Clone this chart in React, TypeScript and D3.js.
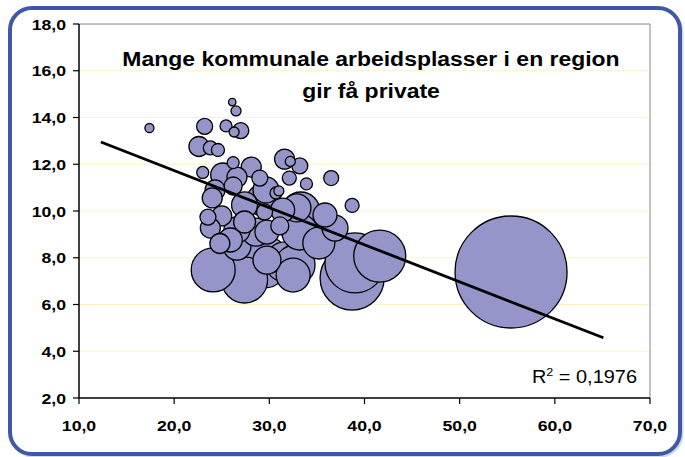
import React from "react";
import * as d3 from "d3";

const titleLines = ["Mange kommunale arbeidsplasser i en region", "gir få private"];
const xTicks = [10, 20, 30, 40, 50, 60, 70];
const yTicks = [2, 4, 6, 8, 10, 12, 14, 16, 18];

// bubble data: x, y, size
const bubbleX = [17.4, 26.1, 26.5, 23.2, 25.45, 27.0, 26.3, 22.6, 23.8, 24.6, 23.0, 26.2, 28.1, 31.6, 32.2, 33.2, 32.1, 33.9, 36.5, 38.7,
  25.1, 26.6, 29.0, 26.2, 24.3, 29.65, 31.0, 29.3, 32.9, 24.0, 27.4, 25.0, 23.55, 23.8, 26.6, 24.8, 26.6, 31.1, 33.3, 29.75,
  29.5, 35.2, 31.65, 29.75, 24.1, 27.4, 29.4, 32.5, 32.7, 39.0, 38.7, 41.6, 55.4, 30.7, 25.9, 35.85,
  33.2, 28.6, 31.4, 27.4, 36.9];
const bubbleY = [13.55, 14.66, 14.28, 13.62, 13.64, 13.44, 13.38, 12.76, 12.7, 12.61, 11.65, 12.07, 11.88, 12.22, 12.12, 11.93, 11.41, 11.16, 11.41, 10.24,
  11.54, 11.45, 11.41, 11.07, 10.9, 10.9, 10.86, 10.47, 10.13, 10.56, 10.26, 9.79, 9.74, 9.27, 9.19, 8.61, 8.5, 9.36, 10.0, 9.1,
  9.96, 8.63, 7.82, 7.9, 7.48, 7.05, 7.82, 7.26, 7.69, 7.78, 7.13, 8.07, 7.39, 10.77, 8.76, 9.83,
  9.1, 9.1, 10.04, 9.53, 9.27];
const bubbleSize = [0.65, 0.44, 0.8, 2.04, 1.15, 2.04, 0.8, 3.19, 1.56, 1.35, 1.15, 1.15, 3.19, 3.19, 0.8, 2.04, 1.56, 1.15, 1.79, 1.56,
  4.59, 3.19, 2.04, 2.58, 3.19, 5.39, 0.8, 8.16, 6.25, 3.19, 5.39, 3.19, 2.04, 3.19, 5.39, 3.19, 6.25, 2.58, 11.5, 4.59,
  2.04, 8.16, 12.76, 6.25, 15.4, 16.9, 21.6, 9.2, 12.76, 28.7, 32.7, 21.6, 100, 1.15, 4.59, 4.59,
  10.3, 6.25, 4.59, 3.86, 5.39];

// linear trend line
const trendIntercept = 14.9;
const trendSlope = -0.1586;
const trendRange = [12.3, 65.1];
const rSquared = "0,1976";

const W = 685;
const H = 457;
const plot = { left: 79, right: 650, top: 24, bottom: 398 };
const FONT = "'Liberation Sans', Arial, sans-serif";
const SX = 1.14;

const fmt = (v: number) => d3.format(".1f")(v).replace(".", ",");

export default function App() {
  const x = d3.scaleLinear().domain([10, 70]).range([plot.left, plot.right]);
  const y = d3.scaleLinear().domain([2, 18]).range([plot.bottom, plot.top]);
  const r = d3.scaleSqrt().domain([0, 100]).range([0, 56]);

  const bubbles = bubbleX
    .map((bx, i) => ({ x: bx, y: bubbleY[i], s: bubbleSize[i] }))
    .sort((a, b) => b.s - a.s);

  const line = d3
    .line<number>()
    .x((d) => x(d))
    .y((d) => y(trendIntercept + trendSlope * d));

  return (
    <svg
      width={W}
      height={H}
      style={{ position: "absolute", left: 0, top: 0, display: "block", background: "#fff" }}
    >
      {/* outer border */}
      <rect x={11} y={10} width={671} height={446} rx={22} fill="none" stroke="#d8d8e0" strokeWidth={3} />
      <rect x={10} y={8} width={670} height={446} rx={22} fill="#fff" stroke="#3F58A8" strokeWidth={4} />

      {/* gridlines */}
      {yTicks
        .filter((t) => t > 2 && t < 18)
        .map((t) => (
          <line key={t} x1={plot.left} x2={plot.right} y1={y(t)} y2={y(t)} stroke="#FBF3C8" strokeWidth={1} />
        ))}
      {/* plot frame top/right */}
      <line x1={plot.left} x2={plot.right} y1={plot.top} y2={plot.top} stroke="#888" strokeWidth={1} />
      <line x1={plot.right} x2={plot.right} y1={plot.top} y2={plot.bottom} stroke="#888" strokeWidth={1} />

      {/* bubbles */}
      {bubbles.map((b, i) => (
        <circle key={i} cx={x(b.x)} cy={y(b.y)} r={r(b.s)} fill="#9595C9" stroke="#000" strokeWidth={1.3} />
      ))}

      {/* trend line */}
      <path d={line(trendRange) || ""} fill="none" stroke="#000" strokeWidth={2.8} />

      {/* axes */}
      <line x1={plot.left} x2={plot.left} y1={plot.top} y2={plot.bottom} stroke="#000" strokeWidth={1.5} />
      <line x1={plot.left} x2={plot.right} y1={plot.bottom} y2={plot.bottom} stroke="#000" strokeWidth={1.5} />
      {yTicks.map((t) => (
        <g key={t}>
          <line x1={plot.left - 6} x2={plot.left} y1={y(t)} y2={y(t)} stroke="#000" strokeWidth={1.2} />
          <g transform={`translate(${plot.left - 13},${y(t) + 5.5}) scale(${SX},1)`}>
            <text textAnchor="end" fontFamily={FONT} fontWeight="bold" fontSize={15.5} fill="#000">
              {fmt(t)}
            </text>
          </g>
        </g>
      ))}
      {xTicks.map((t) => (
        <g key={t}>
          <line x1={x(t)} x2={x(t)} y1={plot.bottom} y2={plot.bottom + 6} stroke="#000" strokeWidth={1.2} />
          <g transform={`translate(${x(t)},${plot.bottom + 33}) scale(${SX},1)`}>
            <text textAnchor="middle" fontFamily={FONT} fontWeight="bold" fontSize={15.5} fill="#000">
              {fmt(t)}
            </text>
          </g>
        </g>
      ))}

      {/* title */}
      {titleLines.map((tl, i) => (
        <g key={i} transform={`translate(371,${66 + i * 31.5}) scale(1.12,1)`}>
          <text textAnchor="middle" fontFamily={FONT} fontWeight="bold" fontSize={20.5} fill="#000">
            {tl}
          </text>
        </g>
      ))}

      {/* R squared */}
      <g transform={`translate(637,383) scale(${SX},1)`}>
        <text textAnchor="end" fontFamily={FONT} fontSize={17.5} fill="#000">
          R
          <tspan dy={-7} fontSize={11}>2</tspan>
          <tspan dy={7}>{` = ${rSquared}`}</tspan>
        </text>
      </g>
    </svg>
  );
}
